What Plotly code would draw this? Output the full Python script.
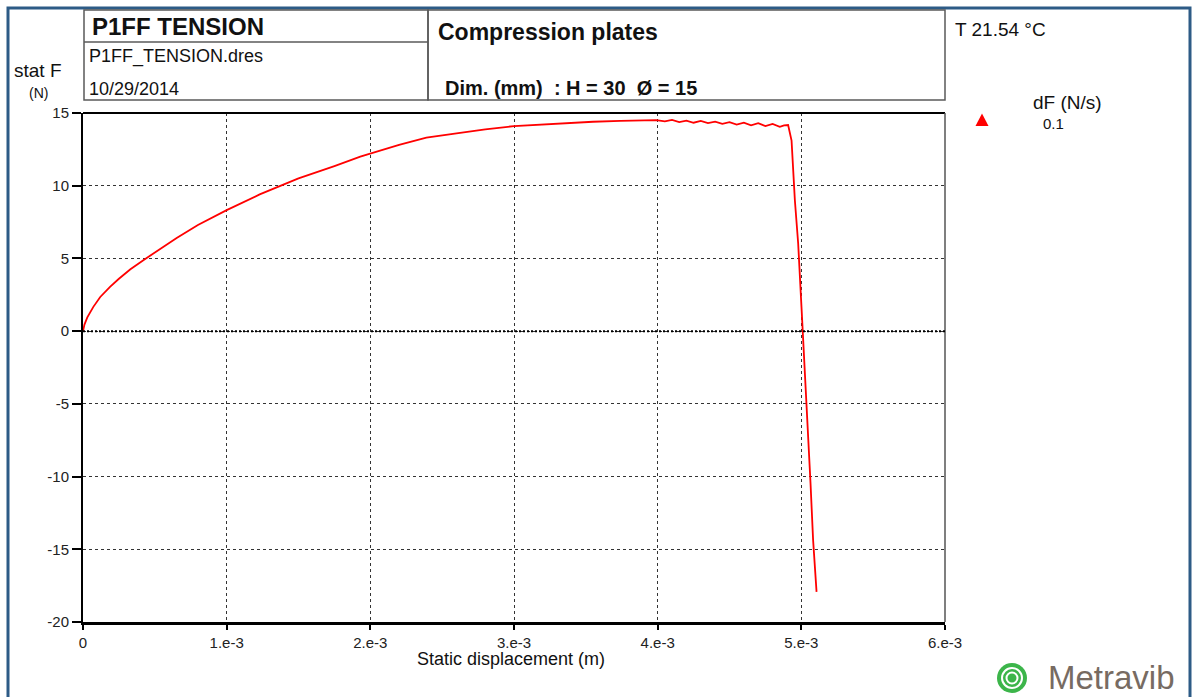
import plotly.graph_objects as go

# ---- data ----
disp_m = [0, 0.01e-3, 0.03e-3, 0.072e-3, 0.12e-3, 0.188e-3, 0.25e-3, 0.33e-3, 0.42e-3,
          0.53e-3, 0.652e-3, 0.8e-3, 1.0e-3, 1.23e-3, 1.5e-3, 1.75e-3, 1.93e-3, 2.2e-3,
          2.39e-3, 2.6e-3, 2.8e-3, 3.0e-3, 3.3e-3, 3.55e-3, 3.74e-3, 3.99e-3, 4.05e-3,
          4.1e-3, 4.15e-3, 4.2e-3, 4.25e-3, 4.3e-3, 4.35e-3, 4.4e-3, 4.45e-3, 4.5e-3,
          4.55e-3, 4.6e-3, 4.65e-3, 4.7e-3, 4.75e-3, 4.8e-3, 4.85e-3, 4.88e-3, 4.908e-3,
          4.932e-3, 4.955e-3, 4.978e-3, 5.001e-3, 5.024e-3, 5.047e-3, 5.064e-3, 5.082e-3,
          5.106e-3]
force_N = [0, 0.45, 0.95, 1.67, 2.35, 3.05, 3.6, 4.25, 4.88,
           5.6, 6.4, 7.3, 8.32, 9.4, 10.5, 11.35, 12.0, 12.8,
           13.3, 13.6, 13.88, 14.1, 14.28, 14.4, 14.46, 14.51, 14.42,
           14.52, 14.38, 14.48, 14.33, 14.45, 14.3, 14.4, 14.25, 14.37,
           14.2, 14.33, 14.15, 14.3, 14.1, 14.25, 14.05, 14.15, 14.17,
           13.1, 9.0, 6.03, 1.67, -2.45, -7.04, -10.47, -14.37,
           -17.93]

x_tickvals = [0, 1e-3, 2e-3, 3e-3, 4e-3, 5e-3, 6e-3]
x_ticktext = ["0", "1.e-3", "2.e-3", "3.e-3", "4.e-3", "5.e-3", "6.e-3"]
y_tickvals = [-20, -15, -10, -5, 0, 5, 10, 15]
y_ticktext = ["-20", "-15", "-10", "-5", "0", "5", "10", "15"]

title_main = "P1FF TENSION"
file_name = "P1FF_TENSION.dres"
date_text = "10/29/2014"
geometry = "Compression plates"
dims = "Dim. (mm)\u00a0\u00a0: H = 30\u00a0\u00a0Ø = 15"
temp_text = "T 21.54 °C"
legend_title = "dF (N/s)"
legend_value = "0.1"

# ---- layout geometry (pixels) ----
W, H = 1196, 697
L, R, T, B = 83, 945, 113, 622
FONT = "Liberation Sans, Arial, sans-serif"


def px(xp):
    return (xp - L) / (R - L)


def py(yp):
    return (B - yp) / (B - T)


fig = go.Figure()
fig.add_trace(go.Scatter(x=disp_m, y=force_N, mode="lines",
                         line=dict(color="#ff0000", width=1.8),
                         showlegend=False, hoverinfo="skip"))

shapes = []
annotations = []

# outer blue frame
shapes.append(dict(type="rect", xref="paper", yref="paper",
                   x0=px(8), x1=px(1190), y0=py(720), y1=py(8),
                   line=dict(color="#2d5b86", width=3), layer="above"))

# header boxes
box_line = dict(color="#5a5a5a", width=1.5)
shapes.append(dict(type="rect", xref="paper", yref="paper",
                   x0=px(84), x1=px(428), y0=py(100), y1=py(10), line=box_line))
shapes.append(dict(type="line", xref="paper", yref="paper",
                   x0=px(84), x1=px(428), y0=py(42), y1=py(42), line=box_line))
shapes.append(dict(type="rect", xref="paper", yref="paper",
                   x0=px(428), x1=px(945), y0=py(100), y1=py(10), line=box_line))

# plot frame top / right
shapes.append(dict(type="line", xref="paper", yref="paper",
                   x0=0, x1=1, y0=1, y1=1, line=dict(color="black", width=2)))
shapes.append(dict(type="line", xref="paper", yref="paper",
                   x0=1, x1=1, y0=0, y1=1, line=dict(color="#555555", width=1.5)))
# zero line (dotted, bolder)
shapes.append(dict(type="line", xref="paper", yref="y",
                   x0=0, x1=1, y0=0, y1=0,
                   line=dict(color="black", width=2, dash="2px,2px")))

# legend triangle
shapes.append(dict(type="path", xref="paper", yref="paper",
                   xsizemode="pixel", ysizemode="pixel",
                   xanchor=px(982), yanchor=py(120),
                   path="M -6.5,-6 L 6.5,-6 L 0,6.5 Z",
                   fillcolor="#ff0000", line=dict(color="#ff0000", width=0)))

# logo icon
cx, cy = px(1012), py(678)
shapes.append(dict(type="circle", xref="paper", yref="paper",
                   xsizemode="pixel", ysizemode="pixel", xanchor=cx, yanchor=cy,
                   x0=-15, x1=15, y0=-15, y1=15,
                   fillcolor="#3cb54a", line=dict(color="#3cb54a", width=0)))
for r in (10, 5.5):
    shapes.append(dict(type="circle", xref="paper", yref="paper",
                       xsizemode="pixel", ysizemode="pixel", xanchor=cx, yanchor=cy,
                       x0=-r, x1=r, y0=-r, y1=r,
                       line=dict(color="white", width=2)))

def ann(text, x, y, size, bold=False, color="#111111", xanchor="left"):
    annotations.append(dict(text=("<b>%s</b>" % text) if bold else text,
                            x=px(x), y=py(y), xref="paper", yref="paper",
                            xanchor=xanchor, yanchor="middle", showarrow=False,
                            font=dict(family=FONT, size=size, color=color)))

ann(title_main, 90, 26, 24, bold=True)
ann(file_name, 87, 56, 18)
ann(date_text, 87, 89, 18)
ann(geometry, 436, 32, 23, bold=True)
ann(dims, 443, 88, 20, bold=True)
ann(temp_text, 953, 29, 19)
ann(legend_title, 1031, 102, 19)
ann(legend_value, 1041, 124, 15)
ann("stat F", 38, 71, 19, xanchor="center")
ann("(N)", 38, 93, 14, xanchor="center")
ann("Static displacement (m)", 511, 659, 18, xanchor="center")
ann("Metravib", 1111, 677, 33, color="#776b62", xanchor="center")

fig.update_layout(
    width=W, height=H, autosize=False,
    margin=dict(l=L, r=W - R, t=T, b=H - B),
    paper_bgcolor="white", plot_bgcolor="white",
    showlegend=False,
    shapes=shapes, annotations=annotations,
    font=dict(family=FONT, size=15, color="#222222"),
    xaxis=dict(range=[0, 6e-3], tickvals=x_tickvals, ticktext=x_ticktext,
               showgrid=True, gridcolor="#333333", griddash="3px,3px", gridwidth=1,
               zeroline=False, showline=True, linecolor="black", linewidth=2.5,
               ticks="outside", ticklen=5, tickcolor="black", tickwidth=1.5,
               tickfont=dict(family=FONT, size=15, color="#222222")),
    yaxis=dict(range=[-20, 15], tickvals=y_tickvals, ticktext=y_ticktext,
               showgrid=True, gridcolor="#333333", griddash="3px,3px", gridwidth=1,
               zeroline=False, showline=True, linecolor="black", linewidth=2,
               ticks="outside", ticklen=9, tickcolor="black", tickwidth=1.5,
               tickfont=dict(family=FONT, size=15, color="#222222")),
)

fig.write_html("out.html")
